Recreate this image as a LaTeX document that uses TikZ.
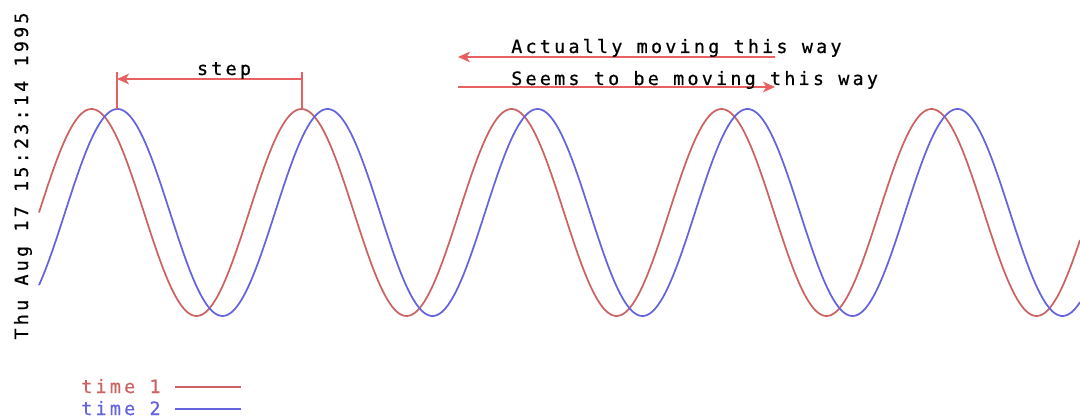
\documentclass[tikz,border=0pt]{standalone}
\usepackage{fontspec}
\usetikzlibrary{arrows.meta}
\newfontfamily\pix{DejaVu Sans Mono}[LetterSpace=17.5,FakeBold=0.6]
\definecolor{arrred}{RGB}{232,96,96}
\definecolor{curvered}{RGB}{205,98,98}
\definecolor{curveblue}{RGB}{100,100,222}
\tikzset{
  lbl/.style={font=\pix\fontsize{13.8pt}{15pt}\selectfont, inner sep=0pt, text=black},
  redline/.style={draw=arrred, line width=1.4pt},
  tipL/.style={-{Stealth[length=9pt,width=8pt,inset=2.5pt]}},
  wavered/.style={draw=curvered, line width=1.3pt},
  waveblue/.style={draw=curveblue, line width=1.3pt},
}
\begin{document}
\begin{tikzpicture}[x=0.75pt, y=-0.75pt]
\useasboundingbox (0,0) rectangle (1080,420);
% waves
\draw[wavered] plot[domain=39:1080, samples=500, smooth] (\x, {212.5-103.5*sin(((\x-39)/210)*360)});
\draw[waveblue] plot[domain=39:1080, samples=500, smooth] (\x, {212.5-103.5*sin(((\x-65)/210)*360)});
% date
\node[lbl, rotate=90, anchor=base] (date) at (28,176) {Thu Aug 17 15:23:14 1995};
% step dimension
\coordinate (s1b) at (117,109); \coordinate (s1t) at (117,72);
\coordinate (s2b) at (302,109); \coordinate (s2t) at (302,72);
\coordinate (s1m) at (117,79); \coordinate (s2m) at (302,79);
\draw[redline] (s1b) -- (s1t);
\draw[redline] (s2b) -- (s2t);
\draw[redline, tipL] (s2m) -- (s1m);
\node[lbl, anchor=base] (step) at (224,75) {step};
% direction arrows
\coordinate (a1r) at (775,57); \coordinate (a1l) at (458,57);
\coordinate (a2l) at (458,87); \coordinate (a2r) at (775,87);
\draw[redline, tipL] (a1r) -- (a1l);
\draw[redline, tipL] (a2l) -- (a2r);
\node[lbl, anchor=base west] (actual) at (511,53) {Actually moving this way};
\node[lbl, anchor=base west] (seems) at (511,85) {Seems to be moving this way};
% legend
\node[lbl, anchor=base west, text=curvered] (t1) at (81,393) {time 1};
\node[lbl, anchor=base west, text=curveblue] (t2) at (81,415) {time 2};
\coordinate (l1a) at (175,387); \coordinate (l1b) at (241,387);
\coordinate (l2a) at (175,409); \coordinate (l2b) at (241,409);
\draw[wavered] (l1a) -- (l1b);
\draw[waveblue] (l2a) -- (l2b);
\end{tikzpicture}
\end{document}
